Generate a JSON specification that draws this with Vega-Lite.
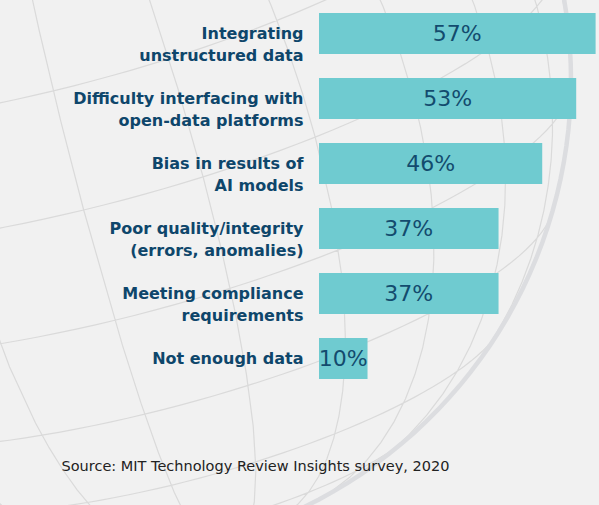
{
  "$schema": "https://vega.github.io/schema/vega-lite/v6.json",
  "autosize": {"type": "none"},
  "width": 280,
  "height": 390,
  "padding": {"left": 319, "top": 1, "right": 0, "bottom": 114},
  "background": "#f1f1f1",
  "config": {"view": {"stroke": null}},
  "datasets": {
    "survey": [
      {"label": "Integrating|unstructured data", "value": 0.57},
      {"label": "Difficulty interfacing with|open-data platforms", "value": 0.53},
      {"label": "Bias in results of|AI models", "value": 0.46},
      {"label": "Poor quality/integrity|(errors, anomalies)", "value": 0.37},
      {"label": "Meeting compliance|requirements", "value": 0.37},
      {"label": "Not enough data", "value": 0.10}
    ]
  },
  "resolve": {"scale": {"x": "independent"}, "axis": {"x": "independent"}},
  "layer": [
    {
      "data": {"graticule": {"step": [15, 15]}},
      "mark": {"type": "geoshape", "fill": null, "stroke": "#dadada", "strokeWidth": 1.2, "clip": false},
      "projection": {"type": "orthographic", "scale": 475, "translate": [-223, 79], "rotate": [-5.5, -15, 15]}
    },
    {
      "data": {"sphere": true},
      "mark": {"type": "geoshape", "fill": null, "stroke": "#dcdde0", "strokeWidth": 4.5, "clip": false},
      "projection": {"type": "orthographic", "scale": 475, "translate": [-223, 79], "rotate": [-5.5, -15, 15]}
    },
    {
      "data": {"name": "survey"},
      "mark": {"type": "bar", "color": "#6fcbd0"},
      "encoding": {
        "y": {
          "field": "label", "type": "nominal", "sort": null,
          "scale": {"paddingInner": 0.37, "paddingOuter": 0.185},
          "axis": {
            "title": null, "ticks": false, "domain": false, "zindex": 2,
            "labelExpr": "split(datum.label, '|')",
            "labelFont": "DejaVu Sans", "labelFontSize": 16, "labelFontWeight": "bold",
            "labelColor": "#0e466b", "labelPadding": 16, "labelLineHeight": 22,
            "labelLimit": 320
          }
        },
        "x": {
          "field": "value", "type": "quantitative",
          "scale": {"domain": [0, 0.577], "nice": false},
          "axis": {
            "title": "Source: MIT Technology Review Insights survey, 2020", "zindex": 2,
            "labels": false, "ticks": false, "domain": false, "grid": false,
            "titleX": -258, "titleY": 79, "titleAlign": "left", "titleBaseline": "alphabetic",
            "titleFont": "DejaVu Sans", "titleFontSize": 14.5, "titleFontWeight": "normal", "titleColor": "#222222"
          }
        }
      }
    },
    {
      "data": {"name": "survey"},
      "mark": {"type": "text", "font": "DejaVu Sans", "fontSize": 22, "color": "#134b6e", "align": "center", "baseline": "middle"},
      "encoding": {
        "y": {"field": "label", "type": "nominal", "sort": null},
        "x": {"field": "value", "type": "quantitative", "scale": {"domain": [0, 1.154], "nice": false, "zero": true}, "axis": null},
        "text": {"field": "value", "type": "quantitative", "format": ".0%"}
      }
    }
  ]
}
